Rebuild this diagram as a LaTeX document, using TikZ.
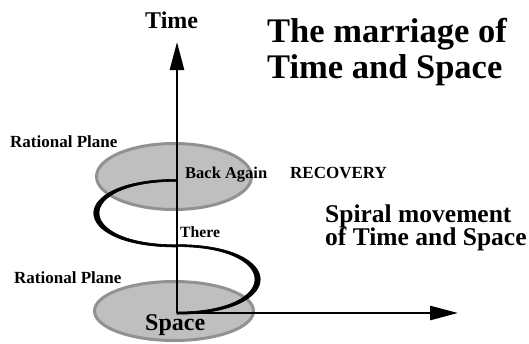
\documentclass[tikz,border=0pt]{standalone}
\usepackage{fontspec}
\setmainfont{Liberation Serif}
\usetikzlibrary{arrows.meta}
\tikzset{
  plane/.style={fill=black!25, draw=black!43, line width=3pt},
  axis/.style={line width=2.6pt, -{Triangle[length=28pt,width=14pt]}},
  spiralpart/.style={fill=black, draw=black, line width=0.6pt},
  lbl/.style={inner sep=0pt, anchor=base west, font=\bfseries},
}
\begin{document}
\begin{tikzpicture}[x=1pt,y=-1pt]
\useasboundingbox (0,0) rectangle (529,343);
% rational planes
\draw[plane] (174,176.5) ellipse [x radius=77.5, y radius=33];
\draw[plane] (174,311) ellipse [x radius=79.5, y radius=29.5];
% spiral
\fill[spiralpart] (177,179.3) .. controls (66,179.3) and (66,247) .. (177,247)
  -- (177,244.8) .. controls (73,244.8) and (73,181.3) .. (177,181.3) -- cycle;
\fill[spiralpart] (177,244.6) .. controls (288,244.6) and (288,314.2) .. (177,314.2)
  -- (177,312) .. controls (281,312) and (281,246.6) .. (177,246.6) -- cycle;
% axes
\coordinate (O) at (177,313);
\coordinate (ytip) at (177,42);
\coordinate (xtip) at (458,313);
\draw[axis] (O) -- (ytip);
\draw[axis] (O) -- (xtip);
% labels
\node[lbl, font=\bfseries\fontsize{24}{26}\selectfont] (time) at (145,28) {Time};
\node[lbl, font=\bfseries\fontsize{34.5}{36}\selectfont] (title1) at (267,42) {The marriage of};
\node[lbl, font=\bfseries\fontsize{34.5}{36}\selectfont] (title2) at (267,78) {Time and Space};
\node[lbl, font=\bfseries\fontsize{17}{19}\selectfont] (rp1) at (10,147) {Rational Plane};
\node[lbl, font=\bfseries\fontsize{17}{19}\selectfont] (rp2) at (14,283) {Rational Plane};
\node[lbl, font=\bfseries\fontsize{16.5}{18}\selectfont] (back) at (185,178) {Back Again};
\node[lbl, font=\bfseries\fontsize{17}{19}\selectfont] (rec) at (290,178) {RECOVERY};
\node[lbl, font=\bfseries\fontsize{25.5}{27}\selectfont] (sp1) at (325,222) {Spiral movement};
\node[lbl, font=\bfseries\fontsize{25.5}{27}\selectfont] (sp2) at (325,245) {of Time and Space};
\node[lbl, font=\bfseries\fontsize{15.7}{17}\selectfont] (there) at (180,237) {There};
\node[lbl, font=\bfseries\fontsize{24}{26}\selectfont] (space) at (145,330) {Space};
\end{tikzpicture}
\end{document}
